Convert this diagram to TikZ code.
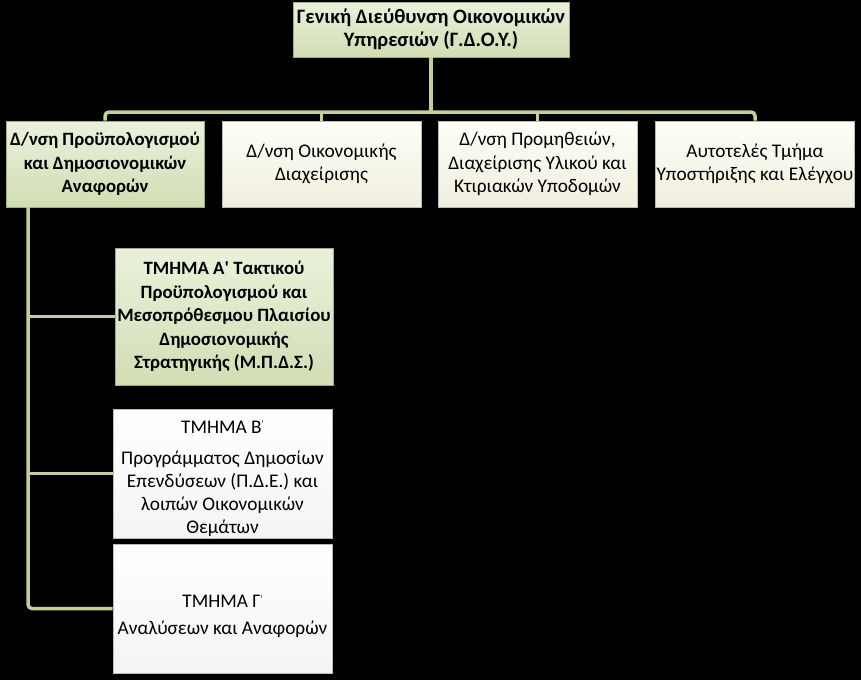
\documentclass[tikz,border=0pt]{standalone}
\usepackage{fontspec}
\setmainfont{Carlito}
\definecolor{connc}{RGB}{192,208,152}
\definecolor{greenT}{RGB}{234,241,219}
\definecolor{greenB}{RGB}{208,222,180}
\definecolor{creamT}{RGB}{254,254,248}
\definecolor{creamB}{RGB}{240,238,222}
\definecolor{whiteB}{RGB}{244,244,244}
\newcommand{\sprime}{\raisebox{0.6ex}{\fontsize{10}{10}\selectfont\textquotesingle}}
\tikzset{
  box/.style={rectangle, draw=gray!55, line width=0.6pt, align=center, inner sep=1pt,
    font=\fontsize{19.3}{23.5}\selectfont},
  greenbox/.style={box, top color=greenT, bottom color=greenB, draw={rgb,255:red,160;green,172;blue,130},
    font=\bfseries\fontsize{18.8}{23.5}\selectfont},
  creambox/.style={box, top color=creamT, bottom color=creamB},
  whitebox/.style={box, top color=white, bottom color=whiteB},
  boxtext/.style={align=center, inner sep=0pt, font=\fontsize{19.3}{23}\selectfont},
  conn/.style={draw=connc, line width=3.5pt, rounded corners=4pt}
}
\begin{document}
\begin{tikzpicture}[x=1pt,y=-1pt]
\fill[black] (0,0) rectangle (861,680);
\useasboundingbox (0,0) rectangle (861,680);

\node[greenbox, minimum width=276pt, minimum height=55pt, font=\bfseries\fontsize{20.5}{23.5}\selectfont] (top) at (431,29.5)
  {Γενική Διεύθυνση Οικονομικών\\Υπηρεσιών (Γ.Δ.Ο.Υ.)};

\node[greenbox, minimum width=198pt, minimum height=86pt] (d1) at (105,164)
  {Δ/νση Προϋπολογισμού\\και Δημοσιονομικών\\Αναφορών};
\node[creambox, minimum width=199pt, minimum height=86pt] (d2) at (321.5,164)
  {Δ/νση Οικονομικής\\Διαχείρισης};
\node[creambox, minimum width=199pt, minimum height=86pt] (d3) at (537.5,164)
  {Δ/νση Προμηθειών,\\Διαχείρισης Υλικού και\\Κτιριακών Υποδομών};
\node[creambox, minimum width=199pt, minimum height=86pt] (d4) at (755,164)
  {Αυτοτελές Τμήμα\\Υποστήριξης και Ελέγχου};

\node[greenbox, minimum width=218pt, minimum height=137pt] (tA) at (224,316.5)
  {ΤΜΗΜΑ Α\textquotesingle{} Τακτικού\\Προϋπολογισμού και\\Μεσοπρόθεσμου Πλαισίου\\Δημοσιονομικής\\Στρατηγικής (Μ.Π.Δ.Σ.)};
\node[whitebox, minimum width=219pt, minimum height=129pt] (tB) at (222.5,473.5) {};
\node[whitebox, minimum width=219pt, minimum height=129pt] (tC) at (222.5,608.5) {};
\node[boxtext] (tBtext) at ([yshift=-5pt]tB.center)
  {ΤΜΗΜΑ Β\sprime\\[8pt]Προγράμματος Δημοσίων\\Επενδύσεων (Π.Δ.Ε.) και\\λοιπών Οικονομικών\\Θεμάτων};
\node[boxtext] (tCtext) at ([yshift=-8pt]tC.center)
  {ΤΜΗΜΑ Γ\sprime\\[4pt]Αναλύσεων και Αναφορών};

\coordinate (bus) at (431,112);
\coordinate (spine) at (28,207);

\draw[conn] (top.south) -- (bus);
\draw[conn] (d1.north) |- (bus) -| (d4.north);
\draw[conn] (d2.north) -- (d2.north |- bus);
\draw[conn] (d3.north) -- (d3.north |- bus);
\draw[conn] (spine) |- (tC.west);
\draw[conn] (spine |- tA.west) -- (tA.west);
\draw[conn] (spine |- tB.west) -- (tB.west);
\end{tikzpicture}
\end{document}
